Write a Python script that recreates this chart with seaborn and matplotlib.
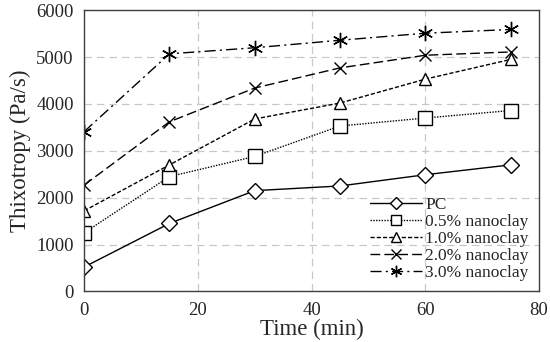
import pandas as pd
import seaborn as sns
import matplotlib.pyplot as plt

# Datos
tiempo = [0, 15, 30, 45, 60, 75]
pc = [520, 1450, 2150, 2250, 2490, 2700]
nano_05 = [1250, 2450, 2880, 3530, 3700, 3860]
nano_10 = [1720, 2700, 3680, 4020, 4530, 4950]
nano_20 = [2270, 3620, 4340, 4770, 5040, 5110]
nano_30 = [3410, 5070, 5200, 5360, 5510, 5590]
series = ['PC', '0.5% nanoclay', '1.0% nanoclay', '2.0% nanoclay', '3.0% nanoclay']

df = pd.DataFrame({'Time': tiempo * 5,
                   'Thixotropy': pc + nano_05 + nano_10 + nano_20 + nano_30,
                   'Serie': [s for s in series for _ in tiempo]})

sns.set_style('white')
plt.rcParams['font.family'] = ['Liberation Serif', 'DejaVu Serif']

estilos = {
    'PC': dict(ls='-', marker='D', ms=8),
    '0.5% nanoclay': dict(ls=(0, (1, 1)), marker='s', ms=10),
    '1.0% nanoclay': dict(ls=(0, (3, 1.5)), marker='^', ms=9),
    '2.0% nanoclay': dict(ls=(0, (7, 3)), marker='x', ms=9),
    '3.0% nanoclay': dict(ls=(0, (8, 3, 1.5, 3)), marker=(6, 2, 0), ms=11),
}

fig, ax = plt.subplots(figsize=(5.5, 3.42), dpi=100)
for s in series:
    e = estilos[s]
    sns.lineplot(data=df[df['Serie'] == s], x='Time', y='Thixotropy', ax=ax,
                 color='black', lw=1.0, linestyle=e['ls'], marker=e['marker'],
                 markersize=e['ms'], markerfacecolor='white', markeredgecolor='black',
                 markeredgewidth=1.0, label=s)

ax.set_xlim(0, 80)
ax.set_ylim(0, 6000)
ax.set_xticks([0, 20, 40, 60, 80])
ax.set_yticks(range(0, 6001, 1000))
ax.grid(True, color='#c8c8c8', linestyle=(0, (6, 4)), lw=0.9)
for sp in ax.spines.values():
    sp.set_color('#404040')
    sp.set_linewidth(1.0)
ax.tick_params(direction='out', length=4, width=1, color='#404040', labelsize=13.5)
ax.set_xlabel('Time (min)', fontsize=16.5, labelpad=0)
ax.set_ylabel('Thixotropy (Pa/s)', fontsize=16.5, labelpad=4)

ax.legend(loc='lower right', frameon=False, fontsize=12.5, handlelength=3,
          handletextpad=0.15, labelspacing=0.05, borderaxespad=0.2, markerscale=0.75)

fig.subplots_adjust(left=0.153, right=0.98, top=0.97, bottom=0.148)
fig.savefig('out.png', dpi=100)
